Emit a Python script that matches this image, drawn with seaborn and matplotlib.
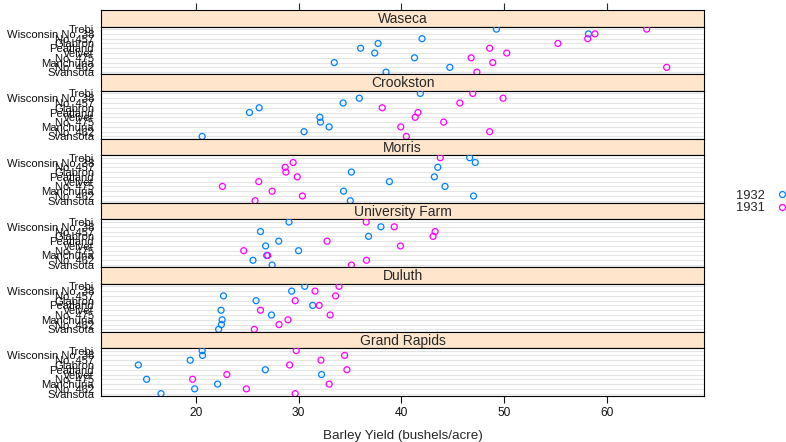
import pandas as pd
import seaborn as sns
import matplotlib.pyplot as plt
from matplotlib.lines import Line2D

sns.set_style('white')
plt.rcParams['font.family'] = ['Liberation Sans', 'DejaVu Sans']

# barley yields (bushels/acre)
varieties = ['Svansota', 'No. 462', 'Manchuria', 'No. 475', 'Velvet',
             'Peatland', 'Glabron', 'No. 457', 'Wisconsin No. 38', 'Trebi']
sites = ['Waseca', 'Crookston', 'Morris', 'University Farm', 'Duluth', 'Grand Rapids']

# each list follows the order of `varieties`
y1931 = {
    'Waseca':          [47.33, 65.77, 48.87, 46.77, 50.23, 48.57, 55.20, 58.10, 58.80, 63.83],
    'Crookston':       [40.47, 48.57, 39.93, 44.10, 41.33, 41.60, 38.13, 45.67, 49.87, 46.93],
    'Morris':          [25.77, 30.37, 27.43, 22.60, 26.13, 29.87, 28.77, 28.70, 29.47, 43.77],
    'University Farm': [35.13, 36.60, 27.00, 24.67, 39.90, 32.77, 43.07, 43.27, 39.30, 36.57],
    'Duluth':          [25.70, 28.10, 28.97, 33.07, 26.30, 32.00, 29.67, 33.60, 31.60, 33.93],
    'Grand Rapids':    [29.67, 24.93, 32.97, 19.70, 23.03, 34.70, 29.13, 32.17, 34.47, 29.77],
}
y1932 = {
    'Waseca':          [38.50, 44.70, 33.47, 41.27, 37.40, 36.03, 37.73, 42.00, 58.17, 49.23],
    'Crookston':       [20.63, 30.53, 32.97, 32.13, 32.07, 25.23, 26.17, 34.33, 35.90, 41.83],
    'Morris':          [35.03, 47.00, 34.37, 44.23, 38.83, 43.20, 35.13, 43.53, 47.17, 46.63],
    'University Farm': [27.43, 25.57, 26.90, 30.00, 26.80, 28.07, 36.80, 26.30, 38.00, 29.07],
    'Duluth':          [22.23, 22.50, 22.57, 27.37, 22.47, 31.37, 25.87, 22.70, 29.33, 30.60],
    'Grand Rapids':    [16.63, 19.90, 22.13, 15.23, 32.23, 26.77, 14.43, 19.47, 20.67, 20.63],
}
years = ['1932', '1931']
colors = {'1932': '#0080ff', '1931': '#ff00ff'}

rows = []
for s in sites:
    for v, a, b in zip(varieties, y1932[s], y1931[s]):
        rows.append({'site': s, 'variety': v, 'year': '1932', 'yield': a})
        rows.append({'site': s, 'variety': v, 'year': '1931', 'yield': b})
df = pd.DataFrame(rows)

W, H = 786, 442
fig = plt.figure(figsize=(W / 100, H / 100), dpi=100)

left, right = 101, 704
top0, step, strip_h = 10, 64.3, 16.5
xlim = (10.8, 69.4)
order_top = varieties[::-1]

for i, s in enumerate(sites):
    st = top0 + i * step
    pt = st + strip_h
    pb = st + step
    # strip
    sax = fig.add_axes([left / W, 1 - pt / H, (right - left) / W, strip_h / H])
    sax.set_facecolor('#ffe5cc')
    sax.set_xticks([])
    sax.set_yticks([])
    for sp in sax.spines.values():
        sp.set_color('black')
        sp.set_linewidth(0.8)
    sax.text(0.5, 0.45, s, ha='center', va='center', fontsize=10, transform=sax.transAxes)

    ax = fig.add_axes([left / W, 1 - pb / H, (right - left) / W, (pb - pt) / H])
    for k in range(len(varieties)):
        ax.axhline(k, color='#e5e5e5', lw=0.8, zorder=0)
    sns.stripplot(data=df[df.site == s], x='yield', y='variety', hue='year',
                  order=order_top, hue_order=years, palette=colors, jitter=False,
                  dodge=False, size=4.3, linewidth=0, legend=False, ax=ax, zorder=3)
    for coll in ax.collections:
        coll.set_edgecolors(coll.get_facecolors())
        coll.set_facecolors('none')
        coll.set_linewidth(0.9)
    ax.set_xlim(*xlim)
    ax.set_ylim(len(varieties) - 0.55, -0.55)
    ax.set_xlabel('')
    ax.set_ylabel('')
    for sp in ax.spines.values():
        sp.set_color('black')
        sp.set_linewidth(0.8)
    ax.tick_params(axis='y', length=0, pad=5, labelsize=8.1, colors='#111111')
    ax.set_xticks([20, 30, 40, 50, 60])
    if i == len(sites) - 1:
        ax.tick_params(axis='x', length=5, width=0.8, direction='out', pad=3,
                       labelsize=8.6, bottom=True, colors='#111111')
        ax.set_xlabel('Barley Yield (bushels/acre)', fontsize=9.6, labelpad=8)
    else:
        ax.tick_params(axis='x', bottom=False, labelbottom=False)
    if i == 0:
        sax.set_xlim(*xlim)
        sax.set_xticks([20, 30, 40, 50, 60])
        sax.tick_params(axis='x', top=True, bottom=False, labelbottom=False,
                        length=5, width=0.8, direction='out')

handles = [Line2D([], [], marker='o', ls='', mfc='none', mec=colors[y], ms=4.3, mew=0.9)
           for y in years]
fig.legend(handles, years, loc='center left', bbox_to_anchor=(730 / W, 1 - 202 / H),
           frameon=False, markerfirst=False, fontsize=9.3, handlelength=0.8,
           handletextpad=0.9, labelspacing=0.02, borderpad=0)

fig.savefig('out.png', dpi=100)
